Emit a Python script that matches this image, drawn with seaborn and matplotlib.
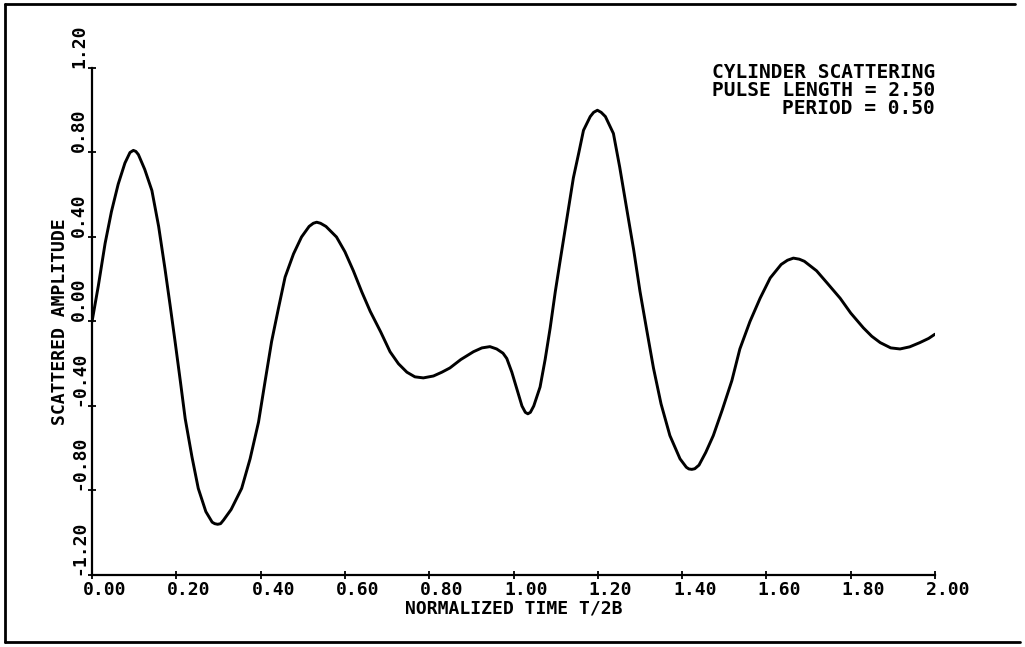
import numpy as np
import matplotlib
matplotlib.use("Agg")
import matplotlib.pyplot as plt
import seaborn as sns
from matplotlib.lines import Line2D
from matplotlib.transforms import ScaledTranslation

# values
time = [0.000, 0.015, 0.031, 0.046, 0.062, 0.078, 0.090, 0.098, 0.104, 0.110,
        0.125, 0.142, 0.158, 0.173, 0.185, 0.197, 0.210, 0.221, 0.237, 0.252,
        0.270, 0.285, 0.291, 0.298, 0.305, 0.312, 0.330, 0.355, 0.375, 0.395,
        0.410, 0.426, 0.442, 0.458, 0.478, 0.497, 0.515, 0.525, 0.533, 0.542,
        0.555, 0.580, 0.600, 0.620, 0.640, 0.660, 0.685, 0.707, 0.727, 0.747,
        0.766, 0.786, 0.810, 0.830, 0.849, 0.875, 0.905, 0.925, 0.944, 0.960,
        0.975, 0.984, 0.996, 1.008, 1.020, 1.028, 1.034, 1.040, 1.048, 1.063,
        1.075, 1.087, 1.099, 1.110, 1.126, 1.142, 1.155, 1.166, 1.182, 1.190,
        1.199, 1.208, 1.218, 1.237, 1.252, 1.268, 1.285, 1.300, 1.316, 1.332,
        1.350, 1.371, 1.395, 1.410, 1.416, 1.423, 1.430, 1.440, 1.456, 1.474,
        1.495, 1.518, 1.537, 1.561, 1.585, 1.609, 1.635, 1.650, 1.664, 1.678,
        1.690, 1.719, 1.745, 1.775, 1.800, 1.830, 1.850, 1.870, 1.895, 1.917,
        1.940, 1.964, 1.985, 2.000]
amplitude = [0.00, 0.17, 0.37, 0.52, 0.65, 0.75, 0.80, 0.81, 0.805, 0.79,
             0.72, 0.62, 0.45, 0.25, 0.08, -0.095, -0.29, -0.46, -0.64, -0.79,
             -0.90, -0.95, -0.957, -0.96, -0.957, -0.94, -0.89, -0.79, -0.65, -0.476,
             -0.29, -0.095, 0.06, 0.21, 0.32, 0.40, 0.45, 0.465, 0.47, 0.465,
             0.45, 0.40, 0.33, 0.24, 0.14, 0.048, -0.05, -0.143, -0.20, -0.24,
             -0.262, -0.267, -0.258, -0.24, -0.22, -0.18, -0.143, -0.125, -0.119, -0.13,
             -0.15, -0.175, -0.24, -0.32, -0.40, -0.43, -0.437, -0.43, -0.40, -0.31,
             -0.18, -0.03, 0.14, 0.28, 0.48, 0.68, 0.80, 0.905, 0.97, 0.99,
             1.00, 0.99, 0.97, 0.89, 0.73, 0.54, 0.34, 0.143, -0.04, -0.22,
             -0.39, -0.54, -0.65, -0.69, -0.698, -0.70, -0.697, -0.68, -0.62, -0.54,
             -0.42, -0.28, -0.13, 0.00, 0.11, 0.206, 0.27, 0.29, 0.30, 0.295,
             0.285, 0.24, 0.18, 0.11, 0.04, -0.03, -0.07, -0.10, -0.125, -0.13,
             -0.12, -0.10, -0.08, -0.06]

x_ticks = [0.0, 0.2, 0.4, 0.6, 0.8, 1.0, 1.2, 1.4, 1.6, 1.8, 2.0]
y_ticks = [-1.2, -0.8, -0.4, 0.0, 0.4, 0.8, 1.2]
x_labels = ["0.00", "0.20", "0.40", "0.60", "0.80", "1.00",
            "1.20", "1.40", "1.60", "1.80", "2.00"]
y_labels = ["-1.20", "-0.80", "-0.40", "0.00", "0.40", "0.80", "1.20"]
info_lines = ["CYLINDER SCATTERING", "PULSE LENGTH = 2.50", "PERIOD = 0.50"]

sns.set_style("white")
plt.rcParams["font.family"] = ["DejaVu Sans Mono", "DejaVu Sans"]
plt.rcParams["font.weight"] = "bold"
plt.rcParams["text.color"] = "black"

fig = plt.figure(figsize=(10.25, 6.47), dpi=100)
ax = fig.add_axes([0.0898, 0.1113, 0.8224, 0.7836])

sns.lineplot(x=time, y=amplitude, color="black", linewidth=2.1, ax=ax)

ax.set_xlim(0, 2.0)
ax.set_ylim(-1.2, 1.2)
for side in ["top", "right"]:
    ax.spines[side].set_visible(False)
for side in ["left", "bottom"]:
    ax.spines[side].set_linewidth(1.6)
    ax.spines[side].set_color("black")

ax.set_xticks(x_ticks, x_labels)
ax.set_yticks(y_ticks, y_labels)
ax.tick_params(axis="both", direction="inout", length=6, width=1.3,
               colors="black", labelsize=13, bottom=True, left=True)
ax.tick_params(axis="x", pad=1)
ax.tick_params(axis="y", pad=0)

shift = ScaledTranslation(-9 / 100, 0, fig.dpi_scale_trans)
for lab in ax.get_xticklabels():
    lab.set_horizontalalignment("left")
    lab.set_transform(lab.get_transform() + shift)
for lab in ax.get_yticklabels():
    lab.set_rotation(90)
    lab.set_verticalalignment("bottom")
    lab.set_horizontalalignment("right")

ax.set_xlabel("NORMALIZED TIME T/2B", fontsize=13, fontweight="bold",
              color="black")
ax.set_ylabel("SCATTERED AMPLITUDE", fontsize=13, fontweight="bold",
              color="black")
ax.xaxis.set_label_coords(0.5, -0.048)
ax.yaxis.set_label_coords(-0.027, 0.5)

ax.text(2.0, 1.225, "\n".join(info_lines), ha="right", va="top",
        multialignment="right", fontsize=14, fontweight="bold",
        linespacing=0.95, color="black")

# frame around the plotted sheet
fig.add_artist(Line2D([5 / 1025, 5 / 1025], [1 - 642 / 647, 1 - 4 / 647],
                      transform=fig.transFigure, color="black", lw=2))
fig.add_artist(Line2D([5 / 1025, 1015 / 1025], [1 - 4 / 647, 1 - 4 / 647],
                      transform=fig.transFigure, color="black", lw=2))
fig.add_artist(Line2D([5 / 1025, 1020 / 1025], [1 - 642 / 647, 1 - 642 / 647],
                      transform=fig.transFigure, color="black", lw=2))

fig.savefig("out.png", dpi=100, facecolor="white")
